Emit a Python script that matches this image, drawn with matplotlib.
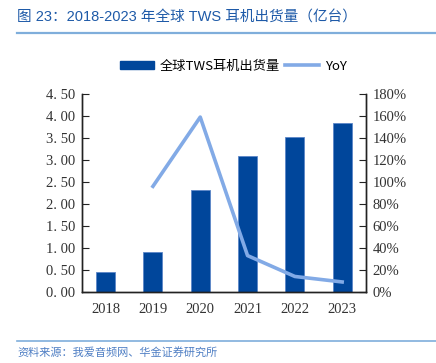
import matplotlib.pyplot as plt
from matplotlib.lines import Line2D

plt.rcParams['font.family'] = ['Liberation Serif', 'Noto Sans CJK SC', 'DejaVu Sans']

years = ['2018', '2019', '2020', '2021', '2022', '2023']
shipments = [0.45, 0.90, 2.32, 3.09, 3.52, 3.85]   # 亿台
yoy_years = [1, 2, 3, 4, 5]
yoy = [96, 159, 33, 14, 9]                          # %

bar_color = '#00469B'
line_color = '#82AAE6'
title_color = '#1E5AA8'

fig = plt.figure(figsize=(4.36, 3.63), dpi=100)
ax = fig.add_axes([0.188, 0.196, 0.651, 0.545])
ax2 = ax.twinx()

x = range(len(years))
ax.bar(x, shipments, width=0.4, color=bar_color, edgecolor='#5C86C8', linewidth=0.6,
       zorder=2)
ax2.plot(yoy_years, yoy, color=line_color, linewidth=2.6, zorder=3)

ax.set_xlim(-0.5, 5.5)
ax.set_ylim(0, 4.5)
ax.set_yticks([i * 0.5 for i in range(10)])
ax.set_yticklabels([f'{i * 0.5:.2f}'.replace('.', '. ') for i in range(10)])
ax2.set_ylim(0, 180)
ax2.set_yticks(range(0, 181, 20))
ax2.set_yticklabels([f'{v}%' for v in range(0, 181, 20)])
ax.set_xticks(list(x))
ax.set_xticklabels(years)

for a in (ax, ax2):
    a.spines['top'].set_visible(False)
    for s in a.spines.values():
        s.set_color('#222222')
        s.set_linewidth(1.0)
ax.tick_params(axis='y', direction='in', length=5, labelsize=10.5, colors='#222222',
               labelcolor='#333333', pad=5)
ax.tick_params(axis='x', length=0, labelsize=10.5, labelcolor='#333333', pad=8)
ax2.tick_params(axis='y', direction='in', length=5, labelsize=10.5, colors='#222222',
                labelcolor='#333333', pad=5)

handles = [plt.Rectangle((0, 0), 1, 1, color=bar_color),
           Line2D([], [], color=line_color, linewidth=2.6)]
fig.legend(handles, ['全球TWS耳机出货量', 'YoY'], loc='center',
           bbox_to_anchor=(0.535, 1 - 66 / 363), ncol=2, frameon=False,
           handlelength=2.6, handleheight=0.6, columnspacing=0.4,
           handletextpad=0.4, prop={'family': ['Noto Sans CJK SC', 'DejaVu Sans'], 'size': 9.5})

fig.text(17 / 436, 1 - 18 / 363, '图 23：2018-2023 年全球 TWS 耳机出货量（亿台）',
         color=title_color, fontsize=10.5, va='center', ha='left',
         family=['Liberation Sans', 'Noto Sans CJK SC'])
fig.add_artist(Line2D([17 / 436, 1.0], [1 - 33 / 363] * 2, color='#7FAEDB', linewidth=1.6))
fig.add_artist(Line2D([17 / 436, 1.0], [1 - 341 / 363] * 2, color='#7FAEDB', linewidth=1.2))
fig.text(17 / 436, 1 - 352 / 363, '资料来源：我爱音频网、华金证券研究所',
         color='#4F7FC4', fontsize=8, va='center', ha='left', style='italic',
         family=['Noto Sans CJK SC', 'DejaVu Sans'])

fig.savefig('out.png', dpi=100)
